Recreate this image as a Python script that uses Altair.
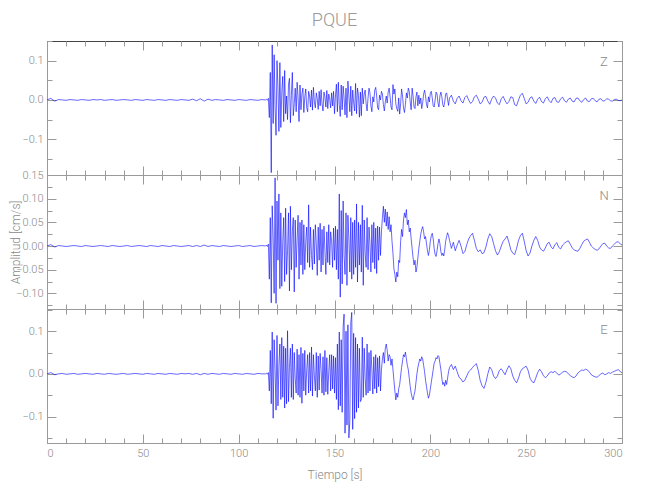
import altair as alt
import pandas as pd

# ---- sample grid (regular seismogram sampling, seconds) ----
PRE_T0, PRE_DT = 0.0, 2.0
STRONG_T0, STRONG_DT = 114.0, 0.5
TAIL_T0, TAIL_DT = 210.0, 1.0
UNIT = 0.001  # amplitudes below are in 1e-3 cm/s

# ---- Z component ----
z_pre = [0, 4, -3, 1, 0, -1, 1, 0, -1, 1,
         0, -1, 1, 0, 1, -1, 0, 1, -1, 0,
         1, 0, -1, 1, 0, -1, 1, 0, -1, 1,
         0, -1, 1, 0, -1, 1, 0, -1, 2, -2,
         3, -3, 2, -1, 1, 0, -1, 1, 0, -1,
         1, 0, -1, 1, 0, -1, 1]
z_strong = [0, 2, -1, 4, -45, 70, -185, 140, -60, 115, -20, -90, 100, 30, -80, 95, -70, 20, 60, -55,
            75, -35, 10, -50, 40, 55, -58, 12, 70, -40, -10, 30, -30, 45, 5, -55, 38, -25, 15, 30,
            -32, 8, 28, -20, -30, 22, 10, -18, 25, -26, 32, -5, -20, 18, 3, -24, 22, -15, 26, -10,
            -28, 20, 8, -18, 24, -22, 15, 2, -20, 18, -15, 22, -35, 10, 40, -30, 45, -12, -42, 38,
            -25, 35, 5, -38, 30, -45, 48, 10, -30, 35, -40, 25, -8, -28, 42, -35, 30, 12, -44, 20,
            -40, 30, -10, 15, 25, -10, -28, 5, 30, 18, -15, -30, 8, -5, 25, 32, 10, -20, -25, 12,
            0, 22, 15, -12, -28, -5, 10, -8, 20, 30, 8, -18, -25, 39, 15, 28, -10, -22, -29, 5,
            -36, -10, 28, 10, -20, -32, -12, 18, 5, 30, 22, -5, -25, 30, 10, -18, -22, 8, 20, -15,
            12, -10, 5, -22, -8, 15, 25, 10, -12, -20, 8, -5, 18, 22, 5, -15, -18, 0, 20, 15,
            -8, -18, 10, 20, 8, -12, -18, -5, 15, 18, 2, -14]
z_tail = [5, 12, -3, -10, 4, 10, -2, -8, 6, 11,
          0, -9, -4, 8, 12, 2, -10, -6, 7, 9,
          -3, -11, 2, 10, 5, -8, -12, 3, 9, -2,
          -10, -4, 8, 6, -12, -15, 0, 12, 17, 4,
          -10, -6, 5, 8, -3, -9, 2, 7, -4, -8,
          3, 8, -2, -7, 4, 6, -5, -6, 3, 7,
          -2, -6, 2, 5, -3, -5, 4, 5, -2, -6,
          1, 5, -3, -4, 3, 4, -2, -5, 2, 3,
          -3, -2, 3, 2, -2, -3, 1, 2, -1, -2,
          0]

# ---- N component ----
n_pre = [0, 3, -2, 1, 0, -1, 0, 1, 0, -1,
         1, 0, -1, 0, 1, 0, -1, 1, 0, -1,
         0, 1, -1, 0, 1, 0, -1, 1, 0, -1,
         1, 0, -1, 1, 0, -1, 0, 1, -1, 1,
         -1, 2, -1, 1, 0, -1, 1, 0, -1, 0,
         1, -1, 0, 1, -1, 0, 1]
n_strong = [0, 2, -1, 4, -70, 60, -120, 85, 20, -100, 144, -121, 95, -30, 110, -90, 70, -85, 10, 60,
            -75, 80, -60, -10, 70, -95, 84, -50, 30, 60, -97, 55, -45, 15, 65, -70, 50, -40, 55, -60,
            45, -50, 10, 40, -35, 87, -45, 40, -20, -50, 35, -38, 45, 5, -62, 40, -30, 48, -55, 35,
            -40, 42, -10, -60, 30, -35, 45, -40, 30, 10, -45, 38, -30, 42, -50, 35, -70, 110, -108, 75,
            -80, 95, -20, -60, 70, -83, 65, 15, -55, 60, -70, 50, -60, 55, -45, 89, -76, 50, -40, 45,
            -55, 86, -83, 55, -15, -45, 60, -50, 40, 5, -55, 45, -35, 50, -48, 38, -58, 42, -30, 40,
            -20, 30, 60, 84, 50, 78, 42, 72, 35, 62, 30, 45, 10, -15, -48, -60, -76, -55, -65, -30,
            -35, 10, 35, 20, 55, 70, 60, 77, 45, 55, 30, 38, 15, -5, -25, -40, -30, -55, -45, -25,
            -5, 10, 25, 35, 41, 30, 15, 20, 5, -10, -20, -8, 10, 22, 27, 15, -5, -18, -22, -10,
            5, 15, 5, -12, -20, -15, -21, -8, 10, 20, 28, 22]
n_tail = [12, -5, 8, -10, 2, 12, 0, -16, -12, 3,
          15, 22, 27, 12, -5, -12, -8, -16, -14, -2,
          15, 26, 20, 5, -10, -19, -12, 0, 10, 15,
          21, 8, -8, -15, -18, -5, 12, 22, 27, 10,
          -10, -21, -15, 0, 12, 20, 12, -2, -8, -11,
          -4, 5, 8, -2, -6, 3, 7, -3, -6, 2,
          6, 9, 11, 4, -4, -8, -10, -11, -5, 3,
          10, 13, 15, 8, 0, -4, -7, -9, -6, 0,
          5, 6, 0, -4, -5, 0, 4, 8, 9, 5,
          2]

# ---- E component ----
e_pre = [0, 3, -2, 0, 1, -1, 0, 1, -1, 0,
         1, 0, -1, 1, 0, -1, 1, 0, -1, 0,
         1, -1, 0, 1, 0, -1, 1, 0, -1, 1,
         0, -1, 1, 0, -1, 1, 0, 1, -1, 1,
         -2, 1, -1, 1, 0, -1, 1, 0, -1, 1,
         0, -1, 1, 0, -1, 1, 0]
e_strong = [0, 2, -1, 3, -40, 55, -70, 98, -104, 80, 10, -85, 90, -75, 20, 70, -60, 85, -55, 65,
            -80, 60, -70, 101, -65, 15, 60, -55, 70, -60, 50, -10, -45, 58, -50, 45, -55, 62, -69, 48,
            -40, 55, -50, 10, 45, -45, 50, -40, 63, -52, 45, -5, -40, 50, -55, 42, -38, 48, 10, -45,
            40, -50, 55, -42, 38, -48, 5, 45, -40, 45, -35, 42, -45, 38, -60, 70, -84, 98, -75, 80,
            -90, 110, 140, -139, 100, -120, 115, -150, -110, 120, 144, -130, 95, -105, 85, -90, 70, -80, 60, -65,
            -61, 86, -55, 60, -10, -50, 70, -45, 50, -40, 55, 10, -47, 40, -35, 45, -45, 38, -30, 42,
            -40, 10, 35, 50, 25, 60, 70, 55, 30, 45, 40, 20, 35, 10, -15, -40, -61, -45, -55, -35,
            -25, -5, 15, 30, 45, 40, 51, 35, 20, 10, -10, -30, -45, -55, -61, -50, -40, -20, 0, 15,
            25, 35, 30, 40, 35, 20, 5, -15, -30, -45, -57, -50, -35, -20, -5, 10, 25, 30, 38, 35,
            43, 40, 25, 10, -10, -25, -20, -29, -15, -25, -10, 5]
e_tail = [15, 22, 10, 18, 5, -8, -12, -19, -15, -5,
          5, 9, 15, 20, 24, 8, -15, -28, -34, -20,
          0, 16, 10, -5, -11, -5, 8, 12, 5, -2,
          10, 19, 12, -5, -15, -21, -10, 5, 12, 15,
          18, 8, -10, -18, -21, -10, 3, 11, 5, -4,
          -9, -5, 2, 5, 3, 6, 2, -3, 0, 4,
          6, 5, 0, -4, -7, -9, -5, 2, 6, 9,
          8, 11, 9, 4, -2, -5, -7, -8, -4, 0,
          2, -2, 0, 3, 1, 4, 6, 8, 10, 6,
          2]

# ---- axes ----
x_major = [0, 50, 100, 150, 200, 250, 300]
x_minor = list(range(0, 301, 10))
z_domain, z_major, z_minor = [-0.191, 0.150], [-0.1, 0.0, 0.1], [-0.15, -0.05, 0.05, 0.15]
n_domain = [-0.133, 0.150]
n_major = [-0.10, -0.05, 0.0, 0.05, 0.10, 0.15]
n_minor = [-0.125, -0.075, -0.025, 0.025, 0.075, 0.125]
e_domain, e_major, e_minor = [-0.162, 0.152], [-0.1, 0.0, 0.1], [-0.15, -0.05, 0.05, 0.15]

FONT = "Roboto, Liberation Sans, sans-serif"
GRAY_TXT = "#8a8a8a"
GRAY_TICK = "#9a9a9a"


def trace(pre, strong, tail):
    t = ([PRE_T0 + PRE_DT * i for i in range(len(pre))]
         + [STRONG_T0 + STRONG_DT * i for i in range(len(strong))]
         + [TAIL_T0 + TAIL_DT * i for i in range(len(tail))])
    v = [a * UNIT for a in pre + strong + tail]
    return pd.DataFrame({"t": t, "v": v})


def ax(orient, values, size, labels=False, fmt=None, title=None, top_dark=False):
    kw = dict(orient=orient, values=values, tickSize={"expr": str(-size)},
              tickColor=GRAY_TICK, tickWidth=1, grid=False, labels=labels,
              domain=top_dark, domainColor="#444", domainWidth=1,
              labelColor=GRAY_TXT, labelFont=FONT, labelFontSize=11,
              labelFontWeight=300,
              labelPadding=size + 4, title=title, titleColor=GRAY_TXT,
              titleFont=FONT, titleFontSize=12, titleFontWeight=300)
    if fmt:
        kw["format"] = fmt
    if title:
        if orient == "bottom":
            kw["titlePadding"] = 11
        else:
            kw["titleX"] = -25
    return alt.Axis(**kw)


dummy = pd.DataFrame({"t": [0.0], "v": [0.0]})


def panel(df, letter, domain, y_major, y_minor, fmt, bottom, ytitle, top_dark):
    xs = alt.Scale(domain=[0, 300], nice=False, zero=False)
    ys = alt.Scale(domain=domain, nice=False, zero=False)
    line = alt.Chart(df).mark_line(color="#0000ff", strokeWidth=0.6).encode(
        x=alt.X("t:Q", scale=xs,
                axis=ax("bottom", x_major, 9, labels=bottom, fmt="d",
                        title="Tiempo [s]" if bottom else None)),
        y=alt.Y("v:Q", scale=ys,
                axis=ax("left", y_major, 9, labels=True, fmt=fmt, title=ytitle)),
    )
    l2 = alt.Chart(dummy).mark_point(opacity=0).encode(
        x=alt.X("t:Q", scale=xs, axis=ax("bottom", x_minor, 5)),
        y=alt.Y("v:Q", scale=ys, axis=ax("left", y_minor, 5)),
    )
    l3 = alt.Chart(dummy).mark_point(opacity=0).encode(
        x=alt.X("t:Q", scale=xs, axis=ax("top", x_major, 9, top_dark=top_dark)),
        y=alt.Y("v:Q", scale=ys, axis=ax("right", y_major, 9)),
    )
    l4 = alt.Chart(dummy).mark_point(opacity=0).encode(
        x=alt.X("t:Q", scale=xs, axis=ax("top", x_minor, 5)),
        y=alt.Y("v:Q", scale=ys, axis=ax("right", y_minor, 5)),
    )
    lab = alt.Chart(pd.DataFrame({"s": [letter]})).mark_text(
        font=FONT, fontSize=13, fontWeight=300, color=GRAY_TXT,
        align="center", baseline="middle"
    ).encode(x=alt.value(557), y=alt.value(21), text="s:N")
    return alt.layer(line, l2, l3, l4, lab).resolve_axis(
        x="independent", y="independent"
    ).properties(width=575, height=134)


p1 = panel(trace(z_pre, z_strong, z_tail), "Z", z_domain, z_major, z_minor, ".1f", False, None, True)
p2 = panel(trace(n_pre, n_strong, n_tail), "N", n_domain, n_major, n_minor, ".2f", False, "Amplitud [cm/s]", False)
p3 = panel(trace(e_pre, e_strong, e_tail), "E", e_domain, e_major, e_minor, ".1f", True, None, False)

chart = alt.vconcat(p1, p2, p3, spacing=0, bounds="flush").properties(
    title=alt.TitleParams("PQUE", fontSize=18, color="#999999", font=FONT,
                          fontWeight=300, anchor="middle", offset=10, frame="group"),
    padding={"left": 0, "top": 4, "right": 5, "bottom": 5},
).configure_view(stroke=GRAY_TICK, strokeWidth=1)

chart.save("out.html", embed_options={"renderer": "svg", "actions": False})
